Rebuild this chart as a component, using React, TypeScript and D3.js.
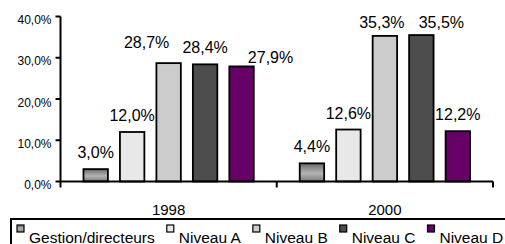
import { useEffect, useRef } from "react";
import * as d3 from "d3";

const years = ["1998", "2000"];
const series = ["Gestion/directeurs", "Niveau A", "Niveau B", "Niveau C", "Niveau D"];
const values1998 = [3.0, 12.0, 28.7, 28.4, 27.9];
const values2000 = [4.4, 12.6, 35.3, 35.5, 12.2];
const yTicks = [0, 10, 20, 30, 40];

const colors = ["url(#gestionGrad)", "#e8e8e8", "#cccccc", "#4d4d4d", "#660066"];

// Excel moved a few labels sideways so they don't collide
const labelNudge: Record<string, [number, number]> = {
  "1998-2": [-22, -4],
  "1998-4": [29, 8],
  "2000-2": [-3, 3.5],
  "2000-3": [20, 4],
};

const App: React.FC = () => {
  const svgRef = useRef<SVGSVGElement | null>(null);

  useEffect(() => {
    if (!svgRef.current) return;
    const svg = d3.select(svgRef.current);
    svg.selectAll("*").remove();

    const font = "'Liberation Sans', Arial, sans-serif";
    const fr = d3.formatLocale({ decimal: ",", thousands: " ", grouping: [3], currency: ["", "€"] });
    const fmt = (v: number) => fr.format(".1f")(v) + "%";

    const defs = svg.append("defs");
    const grad = defs.append("linearGradient")
      .attr("id", "gestionGrad")
      .attr("x1", 0).attr("y1", 0).attr("x2", 0).attr("y2", 1);
    grad.append("stop").attr("offset", "0%").attr("stop-color", "#6a6a6a");
    grad.append("stop").attr("offset", "55%").attr("stop-color", "#b4b4b4");
    grad.append("stop").attr("offset", "100%").attr("stop-color", "#7a7a7a");

    const left = 60.5, right = 493, top = 16.5, bottom = 181.5;

    const x0 = d3.scaleBand().domain(years).range([left, right]).padding(0);
    const x1 = d3.scaleBand()
      .domain(series)
      .range([0, x0.bandwidth()])
      .paddingInner(0.33)
      .paddingOuter(0.63);
    const y = d3.scaleLinear().domain([0, 40]).range([bottom, top]);

    const data = [values1998, values2000];

    // bars
    years.forEach((yr, gi) => {
      const g = svg.append("g").attr("transform", `translate(${x0(yr)},0)`);
      g.selectAll("rect")
        .data(data[gi])
        .enter().append("rect")
        .attr("x", (_, i) => x1(series[i]) ?? 0)
        .attr("y", d => y(d))
        .attr("width", x1.bandwidth())
        .attr("height", d => bottom - y(d))
        .attr("fill", (_, i) => colors[i])
        .attr("stroke", "#000")
        .attr("stroke-width", 1.8);

      g.selectAll("text")
        .data(data[gi])
        .enter().append("text")
        .attr("x", (_, i) => (x1(series[i]) ?? 0) + x1.bandwidth() / 2 + (labelNudge[`${yr}-${i}`]?.[0] ?? 0))
        .attr("y", (d, i) => y(d) - 11 + (labelNudge[`${yr}-${i}`]?.[1] ?? 0))
        .attr("text-anchor", "middle")
        .attr("font-family", font)
        .attr("font-size", 16)
        .attr("fill", "#000")
        .text(d => fmt(d));
    });

    // y axis
    svg.append("line")
      .attr("x1", left).attr("x2", left)
      .attr("y1", top).attr("y2", bottom)
      .attr("stroke", "#000").attr("stroke-width", 2);
    svg.selectAll(".ytick")
      .data(yTicks)
      .enter().append("line")
      .attr("class", "ytick")
      .attr("x1", left - 5).attr("x2", left)
      .attr("y1", d => y(d)).attr("y2", d => y(d))
      .attr("stroke", "#000").attr("stroke-width", 2);
    svg.selectAll(".ylab")
      .data(yTicks)
      .enter().append("text")
      .attr("class", "ylab")
      .attr("x", left - 9)
      .attr("y", d => y(d) + 7.5)
      .attr("text-anchor", "end")
      .attr("font-family", font)
      .attr("font-size", 12)
      .text(d => fmt(d));

    // x axis
    svg.append("line")
      .attr("x1", left).attr("x2", right)
      .attr("y1", bottom).attr("y2", bottom)
      .attr("stroke", "#000").attr("stroke-width", 2);
    const bounds = [...years.map(yr => x0(yr) ?? 0), right];
    svg.selectAll(".xtick")
      .data(bounds)
      .enter().append("line")
      .attr("class", "xtick")
      .attr("x1", d => d).attr("x2", d => d)
      .attr("y1", bottom).attr("y2", bottom + 6)
      .attr("stroke", "#000").attr("stroke-width", 2);
    svg.selectAll(".xlab")
      .data(years)
      .enter().append("text")
      .attr("class", "xlab")
      .attr("x", d => (x0(d) ?? 0) + x0.bandwidth() / 2)
      .attr("y", 215)
      .attr("text-anchor", "middle")
      .attr("font-family", font)
      .attr("font-size", 15)
      .text(d => d);

    // legend
    svg.append("rect")
      .attr("x", 11).attr("y", 219)
      .attr("width", 520).attr("height", 40)
      .attr("fill", "#fff")
      .attr("stroke", "#000").attr("stroke-width", 2);
    let lx = 17;
    series.forEach((s, i) => {
      svg.append("rect")
        .attr("x", lx).attr("y", 225)
        .attr("width", 7).attr("height", 7)
        .attr("fill", colors[i])
        .attr("stroke", "#000").attr("stroke-width", 1.2);
      const t = svg.append("text")
        .attr("x", lx + 12)
        .attr("y", 242.5)
        .attr("font-family", font)
        .attr("font-size", 15.5)
        .text(s);
      const w = (t.node() as SVGTextElement).getComputedTextLength();
      lx += 12 + w + 12;
    });
  }, []);

  return (
    <svg
      ref={svgRef}
      width={505}
      height={244}
      style={{ position: "absolute", left: 0, top: 0, background: "#fff" }}
    />
  );
};

export default App;
